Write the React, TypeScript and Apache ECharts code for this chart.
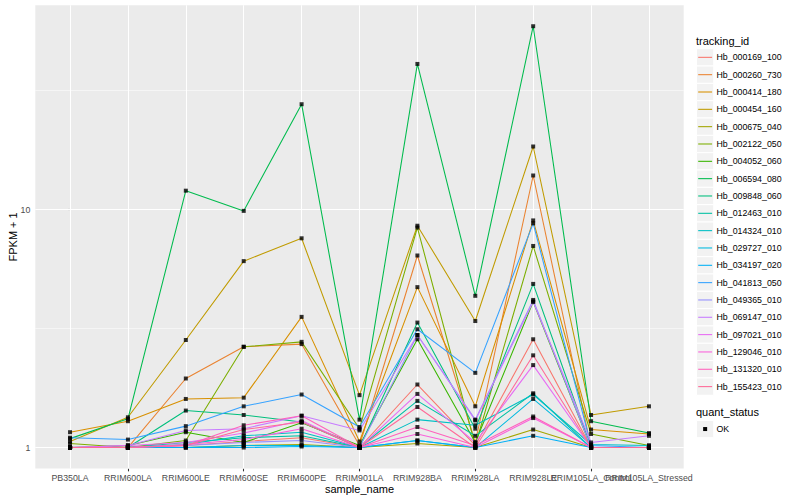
import React, { useEffect, useRef } from 'react';
import * as echarts from 'echarts';

const FONT = '"Liberation Sans", Arial, Helvetica, sans-serif';

const categories = [
  'PB350LA', 'RRIM600LA', 'RRIM600LE', 'RRIM600SE', 'RRIM600PE', 'RRIM901LA',
  'RRIM928BA', 'RRIM928LA', 'RRIM928LE', 'RRIM105LA_Control', 'RRIM105LA_Stressed',
];

const yTickValues = [1, 10];
const yMinorValues = [Math.sqrt(10), Math.sqrt(1000)];

// FPKM + 1 values, one array per tracking_id, in category order
const hb_000169_100 = [1.0, 1.0, 1.02, 1.06, 1.10, 1.0, 1.84, 1.02, 2.85, 1.0, 1.0];
const hb_000260_730 = [1.0, 1.0, 1.95, 2.65, 2.72, 1.02, 6.41, 1.05, 13.9, 1.0, 1.0];
const hb_000414_180 = [1.16, 1.29, 1.60, 1.62, 3.54, 1.06, 4.72, 1.49, 9.0, 1.19, 1.14];
const hb_000454_160 = [1.06, 1.34, 2.83, 6.07, 7.57, 1.66, 8.55, 3.40, 18.4, 1.37, 1.49];
const hb_000675_040 = [1.0, 1.0, 1.0, 1.02, 1.03, 1.0, 1.04, 1.0, 1.19, 1.0, 1.0];
const hb_002122_050 = [1.04, 1.0, 1.07, 2.65, 2.78, 1.2, 8.4, 1.02, 7.03, 1.14, 1.02];
const hb_004052_060 = [1.0, 1.02, 1.16, 1.05, 1.27, 1.02, 2.85, 1.05, 4.1, 1.0, 1.0];
const hb_006594_080 = [1.09, 1.32, 12.0, 9.87, 27.7, 1.31, 40.9, 4.34, 58.9, 1.29, 1.15];
const hb_009848_060 = [1.0, 1.0, 1.43, 1.37, 1.28, 1.0, 3.35, 1.2, 4.87, 1.0, 1.0];
const hb_012463_010 = [1.0, 1.0, 1.05, 1.1, 1.12, 1.0, 1.57, 1.12, 1.69, 1.0, 1.0];
const hb_014324_010 = [1.0, 1.0, 1.03, 1.12, 1.16, 1.0, 1.31, 1.24, 1.67, 1.03, 1.02];
const hb_029727_010 = [1.0, 1.0, 1.0, 1.02, 1.02, 1.0, 1.07, 1.0, 1.60, 1.0, 1.0];
const hb_034197_020 = [1.0, 1.0, 1.0, 1.0, 1.01, 1.0, 1.07, 1.0, 1.12, 1.0, 1.0];
const hb_041813_050 = [1.10, 1.08, 1.23, 1.49, 1.67, 1.22, 3.14, 2.06, 8.75, 1.02, 1.0];
const hb_049365_010 = [1.0, 1.0, 1.02, 1.05, 1.07, 1.0, 2.97, 1.31, 4.17, 1.0, 1.0];
const hb_069147_010 = [1.0, 1.02, 1.18, 1.20, 1.36, 1.18, 2.97, 1.3, 4.1, 1.05, 1.12];
const hb_097021_010 = [1.0, 1.02, 1.05, 1.15, 1.30, 1.0, 1.68, 1.05, 2.22, 1.0, 1.0];
const hb_129046_010 = [1.0, 1.0, 1.03, 1.08, 1.20, 1.0, 1.14, 1.0, 1.33, 1.0, 1.0];
const hb_131320_010 = [1.0, 1.0, 1.02, 1.24, 1.36, 1.0, 1.22, 1.02, 1.35, 1.0, 1.0];
const hb_155423_010 = [1.0, 1.0, 1.02, 1.19, 1.28, 1.0, 1.48, 1.0, 2.44, 1.0, 1.0];

const seriesNames = [
  'Hb_000169_100', 'Hb_000260_730', 'Hb_000414_180', 'Hb_000454_160', 'Hb_000675_040',
  'Hb_002122_050', 'Hb_004052_060', 'Hb_006594_080', 'Hb_009848_060', 'Hb_012463_010',
  'Hb_014324_010', 'Hb_029727_010', 'Hb_034197_020', 'Hb_041813_050', 'Hb_049365_010',
  'Hb_069147_010', 'Hb_097021_010', 'Hb_129046_010', 'Hb_131320_010', 'Hb_155423_010',
];

const seriesValues = [
  hb_000169_100, hb_000260_730, hb_000414_180, hb_000454_160, hb_000675_040,
  hb_002122_050, hb_004052_060, hb_006594_080, hb_009848_060, hb_012463_010,
  hb_014324_010, hb_029727_010, hb_034197_020, hb_041813_050, hb_049365_010,
  hb_069147_010, hb_097021_010, hb_129046_010, hb_131320_010, hb_155423_010,
];

const seriesColors = [
  '#F8766D', '#EA8331', '#D89000', '#C09B00', '#A3A500',
  '#7CAE00', '#39B600', '#00BB4E', '#00BF7D', '#00C1A3',
  '#00BFC4', '#00BAE0', '#00B0F6', '#35A2FF', '#9590FF',
  '#C77CFF', '#E76BF3', '#FA62DB', '#FF62BC', '#FF6A98',
];

const quantStatus = ['OK'];

export default function App() {
  const ref = useRef<HTMLDivElement>(null);

  useEffect(() => {
    document.body.style.margin = '0';
    const chart = echarts.init(ref.current!, null, { renderer: 'svg' });

    const gridLeft = 35.3;
    const gridTop = 5.2;
    const gridWidth = 648.4;
    const gridHeight = 463.4;

    const catIdx = categories.map((_, i) => i);
    // labels split over two axes so overlapping labels are all kept, as in the reference
    const catIdxA = catIdx.filter((i) => i % 2 === 0);
    const catIdxB = catIdx.filter((i) => i % 2 === 1);
    const lg = (v: number) => Math.log10(v);

    const lineSeries = seriesValues.map((vals, si) => ({
      name: seriesNames[si],
      type: 'line',
      xAxisIndex: 0,
      data: vals.map((v, i) => [i, lg(v)]),
      showSymbol: false,
      symbol: 'none',
      lineStyle: { color: seriesColors[si], width: 1.07 },
      itemStyle: { color: seriesColors[si] },
      z: 2,
      silent: true,
    }));

    const points: number[][] = [];
    seriesValues.forEach((vals) => vals.forEach((v, i) => points.push([i, lg(v)])));

    const gridSeries = {
      type: 'line',
      xAxisIndex: 0,
      data: [[0, 0]],
      showSymbol: false,
      symbol: 'none',
      lineStyle: { opacity: 0 },
      silent: true,
      z: 1,
      markLine: {
        silent: true,
        z: 1,
        symbol: ['none', 'none'],
        label: { show: false },
        animation: false,
        data: [
          ...yMinorValues.map((v) => ({ yAxis: lg(v), lineStyle: { color: '#FFFFFF', width: 0.53, type: 'solid' } })),
          ...yTickValues.map((v) => ({ yAxis: lg(v), lineStyle: { color: '#FFFFFF', width: 1.07, type: 'solid' } })),
          ...catIdx.map((i) => ({ xAxis: i, lineStyle: { color: '#FFFFFF', width: 1.07, type: 'solid' } })),
        ],
      },
    };

    const graphic: any[] = [];
    const legX = 696.5;
    const keyH = 17.28;
    graphic.push({
      type: 'text', x: 696, y: 40.7,
      style: { text: 'tracking_id', fontSize: 11, fontFamily: FONT, fill: '#000', textVerticalAlign: 'middle', verticalAlign: 'middle' },
    });
    seriesNames.forEach((name, i) => {
      const y0 = 48.7 + i * 17.33;
      graphic.push({
        type: 'rect', shape: { x: legX, y: y0, width: keyH, height: keyH },
        style: { fill: '#F2F2F2', stroke: '#FFFFFF', lineWidth: 1 },
      });
      graphic.push({
        type: 'line', shape: { x1: legX + 1.7, y1: y0 + keyH / 2, x2: legX + keyH - 1.7, y2: y0 + keyH / 2 },
        style: { stroke: seriesColors[i], lineWidth: 1.07 },
      });
      graphic.push({
        type: 'text', x: 716.5, y: y0 + keyH / 2,
        style: { text: name, fontSize: 8.8, fontFamily: FONT, fill: '#000', textVerticalAlign: 'middle', verticalAlign: 'middle' },
      });
    });
    graphic.push({
      type: 'text', x: 696, y: 412.3,
      style: { text: 'quant_status', fontSize: 11, fontFamily: FONT, fill: '#000', textVerticalAlign: 'middle', verticalAlign: 'middle' },
    });
    quantStatus.forEach((name, i) => {
      const y0 = 420.4 + i * 17.33;
      graphic.push({
        type: 'rect', shape: { x: legX, y: y0, width: keyH, height: keyH },
        style: { fill: '#F2F2F2', stroke: '#FFFFFF', lineWidth: 1 },
      });
      graphic.push({
        type: 'rect', shape: { x: legX + keyH / 2 - 2, y: y0 + keyH / 2 - 2, width: 4, height: 4 },
        style: { fill: '#000' },
      });
      graphic.push({
        type: 'text', x: 716.5, y: y0 + keyH / 2,
        style: { text: name, fontSize: 8.8, fontFamily: FONT, fill: '#000', textVerticalAlign: 'middle', verticalAlign: 'middle' },
      });
    });
    graphic.push({
      type: 'text', x: gridLeft + gridWidth / 2, y: 489,
      style: { text: 'sample_name', fontSize: 11, fontFamily: FONT, fill: '#000', textAlign: 'center', align: 'center', textVerticalAlign: 'middle', verticalAlign: 'middle' },
    });
    graphic.push({
      type: 'text', x: 12.5, y: gridTop + gridHeight / 2, rotation: Math.PI / 2,
      style: { text: 'FPKM + 1', fontSize: 11, fontFamily: FONT, fill: '#000', textAlign: 'center', align: 'center', textVerticalAlign: 'middle', verticalAlign: 'middle' },
    });

    const makeXAxis = (vals: number[]) => ({
      type: 'value',
      gridIndex: 0,
      position: 'bottom',
      offset: 0,
      min: -0.6,
      max: 10.6,
      axisLine: { show: false },
      splitLine: { show: false },
      axisTick: { show: true, customValues: vals, length: 2.75, lineStyle: { color: '#333333', width: 1.07 } },
      axisLabel: {
        show: true,
        customValues: vals,
        formatter: (v: number) => categories[Math.round(v)] ?? '',
        color: '#4D4D4D', fontSize: 8.8, fontFamily: FONT, margin: 5,
        hideOverlap: false, showMinLabel: true, showMaxLabel: true,
      },
    });

    const option: any = {
      animation: false,
      backgroundColor: '#FFFFFF',
      textStyle: { fontFamily: FONT },
      grid: {
        left: gridLeft, top: gridTop, width: gridWidth, height: gridHeight,
        show: true, backgroundColor: '#EBEBEB', borderWidth: 0,
        containLabel: false, outerBoundsMode: 'none',
      },
      xAxis: [makeXAxis(catIdxA), makeXAxis(catIdxB)],
      yAxis: {
        type: 'value',
        min: -0.0885,
        max: 1.8585,
        axisLine: { show: false },
        splitLine: { show: false },
        axisTick: { show: true, customValues: yTickValues.map(lg), length: 2.75, lineStyle: { color: '#333333', width: 1.07 } },
        axisLabel: {
          show: true,
          customValues: yTickValues.map(lg),
          formatter: (v: number) => String(Math.round(Math.pow(10, v))),
          color: '#4D4D4D', fontSize: 8.8, fontFamily: FONT, margin: 5,
          showMinLabel: true, showMaxLabel: true,
        },
      },
      graphic,
      series: [
        gridSeries,
        ...lineSeries,
        {
          name: 'OK',
          type: 'scatter',
          xAxisIndex: 0,
          data: points,
          symbol: 'rect',
          symbolSize: 4,
          itemStyle: { color: '#000000' },
          z: 3,
          silent: true,
        },
      ],
    };

    chart.setOption(option);
    return () => chart.dispose();
  }, []);

  return <div ref={ref} style={{ width: 800, height: 500 }} />;
}
